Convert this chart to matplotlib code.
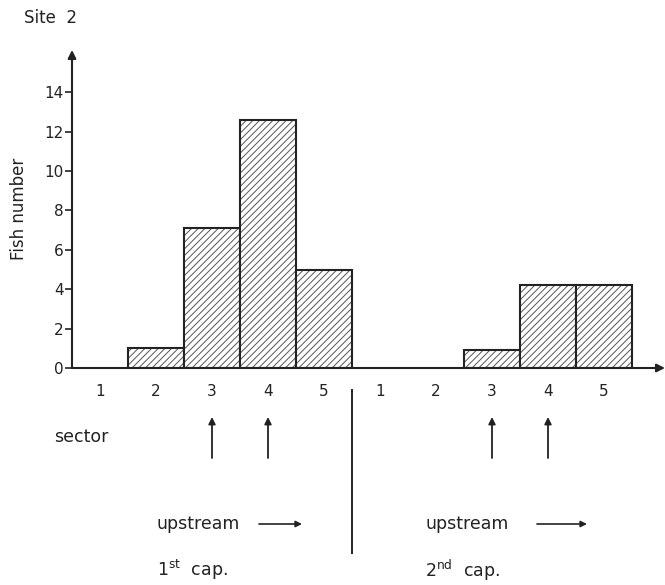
import matplotlib.pyplot as plt
import numpy as np

# data
sectors = ["1", "2", "3", "4", "5"]
cap1_fish = [0, 1.0, 7.1, 12.6, 5.0]
cap2_fish = [0, 0, 0.9, 4.2, 4.2]
yticks = [0, 2, 4, 6, 8, 10, 12, 14]

plt.rcParams["font.family"] = "DejaVu Sans"
plt.rcParams["mathtext.default"] = "regular"
plt.rcParams["hatch.linewidth"] = 0.7

fig = plt.figure(figsize=(6.65, 5.85), dpi=100)
W, H = 665, 585
x0_px, y0_px, top_px, right_px = 72, 368, 50, 665
ax = fig.add_axes([x0_px / W, (H - y0_px) / H, (right_px - x0_px) / W, (y0_px - top_px) / H])

px_per_unit_y = 19.7
px_per_unit_x = 56.0
ax.set_ylim(0, (y0_px - top_px) / px_per_unit_y)
ax.set_xlim(0, (right_px - x0_px) / px_per_unit_x)
ink = "#222222"

n = len(sectors)
pos1 = np.arange(n) + 0.5
pos2 = np.arange(n) + n + 0.5
for pos, vals in [(pos1, cap1_fish), (pos2, cap2_fish)]:
    for p, v in zip(pos, vals):
        if v > 0:
            # hatch in grey, outline drawn separately in dark ink
            ax.bar(p, v, width=1.0, facecolor="white", edgecolor="#555555",
                   hatch="/////", linewidth=0)
            ax.bar(p, v, width=1.0, facecolor="none", edgecolor=ink,
                   linewidth=1.5)

for s in ["top", "right", "left", "bottom"]:
    ax.spines[s].set_visible(False)

# axes with arrow heads
ymax = ax.get_ylim()[1]
xmax = ax.get_xlim()[1]
ax.annotate("", xy=(0, ymax), xytext=(0, 0), xycoords="data",
            arrowprops=dict(arrowstyle="-|>", color=ink, lw=1.5,
                            mutation_scale=12, shrinkA=0, shrinkB=0),
            annotation_clip=False)
ax.annotate("", xy=(xmax, 0), xytext=(0, 0), xycoords="data",
            arrowprops=dict(arrowstyle="-|>", color=ink, lw=1.5,
                            mutation_scale=12, shrinkA=0, shrinkB=0,
                            facecolor="white"),
            annotation_clip=False)

ax.set_yticks(yticks)
ax.set_yticklabels([str(t) for t in yticks], fontsize=11, color=ink)
ax.tick_params(axis="y", direction="out", length=5, width=1.2, color=ink, pad=1)
ax.set_xticks([])

ax.set_ylabel("Fish number", fontsize=12, color=ink, labelpad=12)
fig.text(24 / W, 1 - 18 / H, "Site  2", fontsize=12, color=ink, va="center")


def ypx(p):
    return (y0_px - p) / px_per_unit_y


def xpx(p):
    return (p - x0_px) / px_per_unit_x


# sector labels below axis
for pos in (pos1, pos2):
    for p, lab in zip(pos, sectors):
        ax.text(p, ypx(392), lab, ha="center", va="center", fontsize=11,
                color=ink, clip_on=False)

ax.text(xpx(54), ypx(437), "sector", ha="left", va="center", fontsize=12.5,
        color=ink, clip_on=False)

# capture-position arrows under sectors 3 and 4
for pos in (pos1, pos2):
    for p in pos[2:4]:
        ax.annotate("", xy=(p, ypx(417)), xytext=(p, ypx(458)),
                    arrowprops=dict(arrowstyle="-|>", color=ink, lw=1.3,
                                    mutation_scale=10, shrinkA=0, shrinkB=0),
                    annotation_clip=False)

# divider between the two captures
ax.plot([n, n], [ypx(390), ypx(553)], color=ink, lw=1.4, clip_on=False)

# upstream labels and captions
for start, a0, a1, cap in [(157, 259, 302, "1$^{st}$  cap."),
                           (425, 537, 587, "2$^{nd}$  cap.")]:
    ax.text(xpx(start), ypx(524), "upstream", ha="left", va="center",
            fontsize=12.5, color=ink, clip_on=False)
    ax.annotate("", xy=(xpx(a1), ypx(524)), xytext=(xpx(a0), ypx(524)),
                arrowprops=dict(arrowstyle="-|>", color=ink, lw=1.2,
                                mutation_scale=9, shrinkA=0, shrinkB=0),
                annotation_clip=False)
    ax.text(xpx(start), ypx(570), cap, ha="left", va="center", fontsize=12.5,
            color=ink, clip_on=False)

fig.savefig("out.png", dpi=100, facecolor="white")
